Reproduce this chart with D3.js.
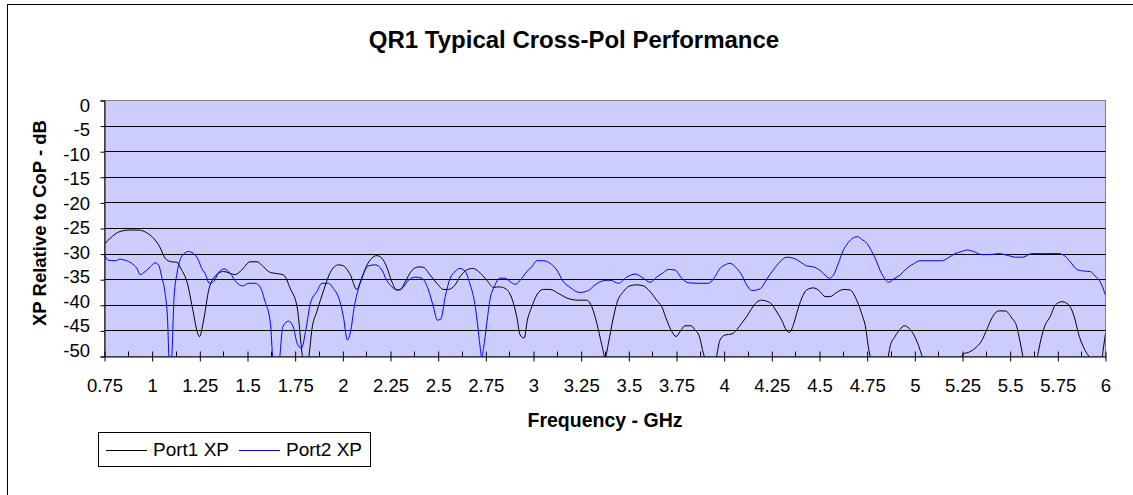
<!DOCTYPE html>
<html>
<head>
<meta charset="utf-8">
<title>QR1 Typical Cross-Pol Performance</title>
<style>
  body { margin: 0; background: #fff; }
  svg text { font-family: "Liberation Sans", Arial, sans-serif; fill: #000; }
</style>
</head>
<body>
<div class="plot_container"></div>
<script src="https://cdn.jsdelivr.net/npm/d3@7"></script>
<script>
// data
var port1Freq = [0.75,0.78,0.83,0.885,0.93,0.97,1.007,1.04,1.068,1.10,1.13,1.15,1.187,1.21,1.248,1.27,1.295,1.33,1.374,1.435,
  1.47,1.514,1.55,1.584,1.62,1.654,1.69,1.724,1.76,1.79,1.805,1.82,1.84,1.864,1.90,1.934,1.977,2.003,2.04,2.073,
  2.10,2.122,2.152,2.178,2.205,2.23,2.257,2.283,2.30,2.327,2.362,2.397,2.423,2.458,2.493,2.528,2.554,2.589,2.615,2.65,
  2.682,2.712,2.755,2.79,2.82,2.851,2.886,2.912,2.93,2.951,2.968,2.991,3.017,3.052,3.087,3.131,3.192,3.236,3.28,3.306,
  3.332,3.358,3.376,3.393,3.416,3.437,3.472,3.506,3.541,3.576,3.611,3.646,3.673,3.699,3.725,3.748,3.769,3.795,3.825,3.847,
  3.87,3.891,3.90,3.93,3.957,3.978,4.005,4.04,4.066,4.092,4.118,4.145,4.171,4.197,4.223,4.25,4.276,4.302,4.325,4.342,
  4.363,4.38,4.407,4.433,4.468,4.503,4.529,4.555,4.59,4.625,4.66,4.695,4.721,4.744,4.756,4.769,4.81,4.858,4.87,4.896,
  4.922,4.945,4.97,4.995,5.02,5.036,5.045,5.15,5.246,5.252,5.281,5.316,5.351,5.378,5.404,5.439,5.474,5.509,5.535,5.552,
  5.57,5.605,5.64,5.657,5.68,5.71,5.736,5.771,5.797,5.823,5.841,5.858,5.884,5.902,5.923,5.95,5.98,5.989,6.0];
var port1XP = [-28.0,-26.9,-25.6,-25.3,-25.3,-25.8,-26.9,-28.6,-30.8,-31.5,-31.6,-32.8,-36.0,-40.3,-46.1,-42.9,-37.3,-34.3,-33.4,-34.0,
  -33.1,-31.5,-31.5,-32.5,-33.6,-33.8,-34.1,-36.7,-40.3,-50.5,-53,-50.5,-44.2,-41.2,-37.0,-33.6,-32.1,-32.3,-34.1,-36.9,
  -34.7,-32.5,-30.8,-30.3,-30.8,-32.5,-35.4,-37.0,-37.0,-35.4,-33.2,-32.5,-32.6,-34.1,-35.7,-36.9,-36.9,-36.0,-34.4,-33.1,
  -32.8,-33.4,-35.1,-36.5,-36.4,-36.7,-38.6,-42.2,-45.8,-46.4,-42.9,-40.3,-38.0,-36.9,-36.9,-37.7,-38.8,-39.0,-39.0,-40.3,
  -43.5,-47.7,-50.2,-47.4,-42.9,-39.6,-37.3,-36.2,-36.0,-36.2,-37.3,-39.0,-40.3,-42.9,-45.1,-46.1,-45.1,-44.0,-44.0,-44.8,
  -46.1,-49.4,-50.5,-53,-50.5,-46.8,-45.8,-45.6,-44.8,-43.5,-42.2,-40.6,-39.4,-39.0,-39.2,-39.8,-41.3,-42.9,-44.8,-45.3,
  -43.8,-41.6,-38.6,-37.0,-36.6,-37.3,-38.3,-38.3,-37.5,-36.9,-37.0,-39.0,-41.6,-44.8,-48.1,-50.5,-54,-50.5,-48.1,-46.1,
  -44.7,-44.0,-44.5,-45.8,-47.9,-49.7,-50.5,-55,-50.2,-49.5,-49.2,-48.4,-46.9,-44.7,-42.5,-41.1,-41.1,-42.5,-44.2,-47.1,
  -50.5,-53,-50.5,-47.4,-44.2,-42.2,-40.0,-39.3,-39.6,-40.9,-42.9,-45.5,-48.1,-49.4,-50.3,-51,-50.5,-48.4,-45.5];

var port2Freq = [0.75,0.77,0.806,0.832,0.858,0.893,0.92,0.937,0.963,0.99,1.016,1.033,1.05,1.068,1.08,1.09,1.10,1.115,1.13,1.16,
  1.19,1.217,1.243,1.26,1.278,1.30,1.322,1.348,1.378,1.41,1.444,1.476,1.505,1.54,1.566,1.59,1.62,1.633,1.65,1.668,
  1.685,1.715,1.74,1.76,1.783,1.806,1.83,1.864,1.89,1.925,1.95,1.977,2.003,2.024,2.042,2.06,2.082,2.108,2.135,2.17,
  2.205,2.23,2.257,2.283,2.31,2.344,2.38,2.414,2.449,2.475,2.496,2.514,2.537,2.563,2.589,2.615,2.642,2.668,2.689,2.706,
  2.72,2.729,2.738,2.755,2.773,2.794,2.822,2.851,2.878,2.904,2.939,2.965,2.991,3.017,3.052,3.087,3.122,3.157,3.192,3.241,
  3.288,3.323,3.367,3.402,3.446,3.489,3.533,3.576,3.611,3.646,3.681,3.707,3.742,3.777,3.812,3.865,3.917,3.952,3.978,4.005,
  4.031,4.066,4.092,4.118,4.145,4.171,4.197,4.223,4.258,4.293,4.328,4.363,4.398,4.433,4.468,4.503,4.529,4.552,4.573,4.599,
  4.622,4.652,4.678,4.699,4.721,4.748,4.774,4.8,4.818,4.844,4.862,4.891,4.922,4.957,4.993,5.028,5.08,5.141,5.176,5.211,
  5.246,5.273,5.308,5.351,5.395,5.439,5.482,5.526,5.566,5.613,5.675,5.753,5.788,5.815,5.85,5.884,5.919,5.946,5.972,6.0];
var port2XP = [-30.2,-31.2,-31.3,-31.0,-31.2,-31.8,-32.8,-34.0,-33.4,-32.5,-31.7,-32.1,-34.4,-37.7,-42.2,-51,-51,-38.3,-33.8,-30.2,
  -29.5,-29.9,-31.2,-32.8,-33.8,-35.7,-35.4,-33.6,-32.9,-33.8,-35.6,-36.2,-35.7,-35.7,-36.4,-39.0,-43.5,-50.5,-53,-50.5,
  -44.2,-43.1,-44.2,-47.4,-48.4,-44.8,-39.6,-37.3,-35.7,-35.7,-36.7,-38.4,-42.2,-46.8,-44.8,-40.3,-36.7,-33.8,-32.3,-32.1,
  -33.1,-35.1,-36.4,-37.0,-36.7,-35.1,-34.5,-34.7,-37.0,-40.3,-42.9,-42.7,-38.3,-34.7,-33.4,-32.8,-33.4,-36.0,-39.0,-43.5,
  -48.1,-50.2,-48.4,-43.5,-38.6,-36.4,-34.7,-34.7,-35.4,-35.9,-34.7,-33.4,-32.5,-31.3,-31.3,-31.8,-33.1,-35.4,-36.5,-37.5,
  -37.1,-36.0,-35.2,-35.1,-35.7,-34.5,-33.9,-34.7,-35.5,-34.5,-33.6,-33.0,-33.1,-34.7,-35.6,-35.7,-35.7,-34.4,-32.8,-32.1,
  -31.8,-32.8,-34.1,-36.0,-37.1,-37.0,-36.5,-34.9,-33.1,-31.5,-30.6,-30.8,-31.5,-32.3,-32.5,-33.2,-34.1,-34.7,-34.1,-31.8,
  -29.5,-27.7,-26.8,-26.6,-27.1,-27.9,-29.5,-31.5,-33.2,-34.9,-35.5,-34.8,-34.1,-32.8,-31.9,-31.3,-31.3,-31.3,-30.7,-29.9,
  -29.5,-29.2,-29.5,-30.1,-30.1,-29.9,-30.2,-30.6,-30.6,-29.9,-29.9,-29.9,-30.4,-31.5,-33.0,-33.3,-33.4,-34.3,-35.4,-38.0];

var xTicks = [0.75,1,1.25,1.5,1.75,2,2.25,2.5,2.75,3,3.25,3.5,3.75,4,4.25,4.5,4.75,5,5.25,5.5,5.75,6];
var yTicks = [0,-5,-10,-15,-20,-25,-30,-35,-40,-45,-50];

var seriesNames = ["Port1 XP", "Port2 XP"];
var seriesColors = ["#000000", "#0000ff"];

var width = 1133, height = 495;
var plotLeft = 104.5, plotRight = 1105.5, plotTop = 100.5, plotBottom = 356.5;

var svg = d3.select(".plot_container").append("svg")
    .attr("width", width)
    .attr("height", height);

// chart border
svg.append("rect")
    .attr("x", 7.5).attr("y", 4.5)
    .attr("width", 1140).attr("height", 500)
    .style("fill", "none").style("stroke", "#000").style("stroke-width", 1);

var x = d3.scaleLinear().domain([0.75, 6]).range([plotLeft, plotRight]);
var y = d3.scaleLinear().domain([0, -50]).range([plotTop, plotBottom]);

// plot background
svg.append("rect")
    .attr("x", plotLeft).attr("y", plotTop)
    .attr("width", plotRight - plotLeft).attr("height", plotBottom - plotTop)
    .style("fill", "#ccccff")
    .style("stroke", "#808080").style("stroke-width", 1);

// gridlines
svg.selectAll(".grid")
    .data(yTicks.slice(1, -1))
    .enter()
    .append("line")
    .attr("class", "grid")
    .attr("x1", plotLeft).attr("x2", plotRight)
    .attr("y1", function(d){ return Math.round(y(d) - 0.5) + 0.5; })
    .attr("y2", function(d){ return Math.round(y(d) - 0.5) + 0.5; })
    .style("stroke", "#000").style("stroke-width", 1);

// series
svg.append("clipPath").attr("id", "plotclip")
    .append("rect")
    .attr("x", plotLeft).attr("y", plotTop)
    .attr("width", plotRight - plotLeft).attr("height", plotBottom - plotTop);

var line = d3.line()
    .x(function(d){ return x(d[0]); })
    .y(function(d){ return y(d[1]); })
    .curve(d3.curveMonotoneX);

var series = [
  d3.zip(port1Freq, port1XP),
  d3.zip(port2Freq, port2XP)
];

svg.append("g").attr("clip-path", "url(#plotclip)")
    .selectAll(".series")
    .data(series)
    .enter()
    .append("path")
    .attr("class", "series")
    .attr("d", line)
    .style("fill", "none")
    .style("stroke", function(d, i){ return seriesColors[i]; })
    .style("stroke-width", 1);

// y axis
var yAxis = d3.axisLeft(y).tickValues(yTicks).tickSize(4).tickFormat("");
var gy = svg.append("g").attr("transform", "translate(" + plotLeft + ",0)").call(yAxis);
gy.select(".domain").style("stroke", "#000");
gy.selectAll(".tick line").style("stroke", "#000");

// y tick labels (Excel spaces them slightly tighter than the gridlines)
var yLabel = d3.scaleLinear().domain([0, -50]).range([105, 350.5]);
svg.selectAll(".ylab")
    .data(yTicks)
    .enter()
    .append("text")
    .attr("class", "ylab")
    .attr("x", 90)
    .attr("y", function(d){ return yLabel(d) + 6.5; })
    .attr("text-anchor", "end")
    .style("font-size", "18.5px")
    .text(function(d){ return d; });

// x axis
var xAxis = d3.axisBottom(x).tickValues(xTicks).tickSize(5).tickSizeOuter(0).tickPadding(17)
    .tickFormat(function(d){ return d; });
var gx = svg.append("g").attr("transform", "translate(0," + plotBottom + ")").call(xAxis);
gx.select(".domain").style("stroke", "#000");
gx.selectAll(".tick line").attr("y1", -5).style("stroke", "#000");
gx.selectAll(".tick text")
    .style("font-size", "18.5px")
    .style("font-family", "'Liberation Sans', Arial, sans-serif")
    .attr("fill", "#000");

// minor ticks between labels
var minor = xTicks.slice(0, -1).map(function(d){ return d + 0.125; });
gx.selectAll(".minor")
    .data(minor)
    .enter()
    .append("line")
    .attr("class", "minor")
    .attr("x1", function(d){ return Math.round(x(d) - 0.5) + 0.5; })
    .attr("x2", function(d){ return Math.round(x(d) - 0.5) + 0.5; })
    .attr("y1", -5).attr("y2", 0)
    .style("stroke", "#000");

// titles
svg.append("text")
    .attr("x", 574).attr("y", 48)
    .attr("text-anchor", "middle")
    .style("font-size", "24px").style("font-weight", "bold")
    .text("QR1 Typical Cross-Pol Performance");

svg.append("text")
    .attr("x", 605).attr("y", 427)
    .attr("text-anchor", "middle")
    .style("font-size", "19.5px").style("font-weight", "bold")
    .text("Frequency - GHz");

svg.append("text")
    .attr("transform", "translate(46,223) rotate(-90)")
    .attr("text-anchor", "middle")
    .style("font-size", "18.5px").style("font-weight", "bold")
    .text("XP Relative to CoP - dB");

// legend
var legend = svg.append("g");
legend.append("rect")
    .attr("x", 98.5).attr("y", 432.5)
    .attr("width", 272).attr("height", 34)
    .style("fill", "#fff").style("stroke", "#000");

var legendX = [106, 239];
var items = legend.selectAll(".item")
    .data(seriesNames)
    .enter()
    .append("g")
    .attr("class", "item")
    .attr("transform", function(d, i){ return "translate(" + legendX[i] + ",0)"; });
items.append("line")
    .attr("x1", 0).attr("x2", 41)
    .attr("y1", 450.5).attr("y2", 450.5)
    .style("stroke", function(d, i){ return seriesColors[i]; });
items.append("text")
    .attr("x", 47).attr("y", 456)
    .style("font-size", "19px")
    .text(function(d){ return d; });
</script>
</body>
</html>
